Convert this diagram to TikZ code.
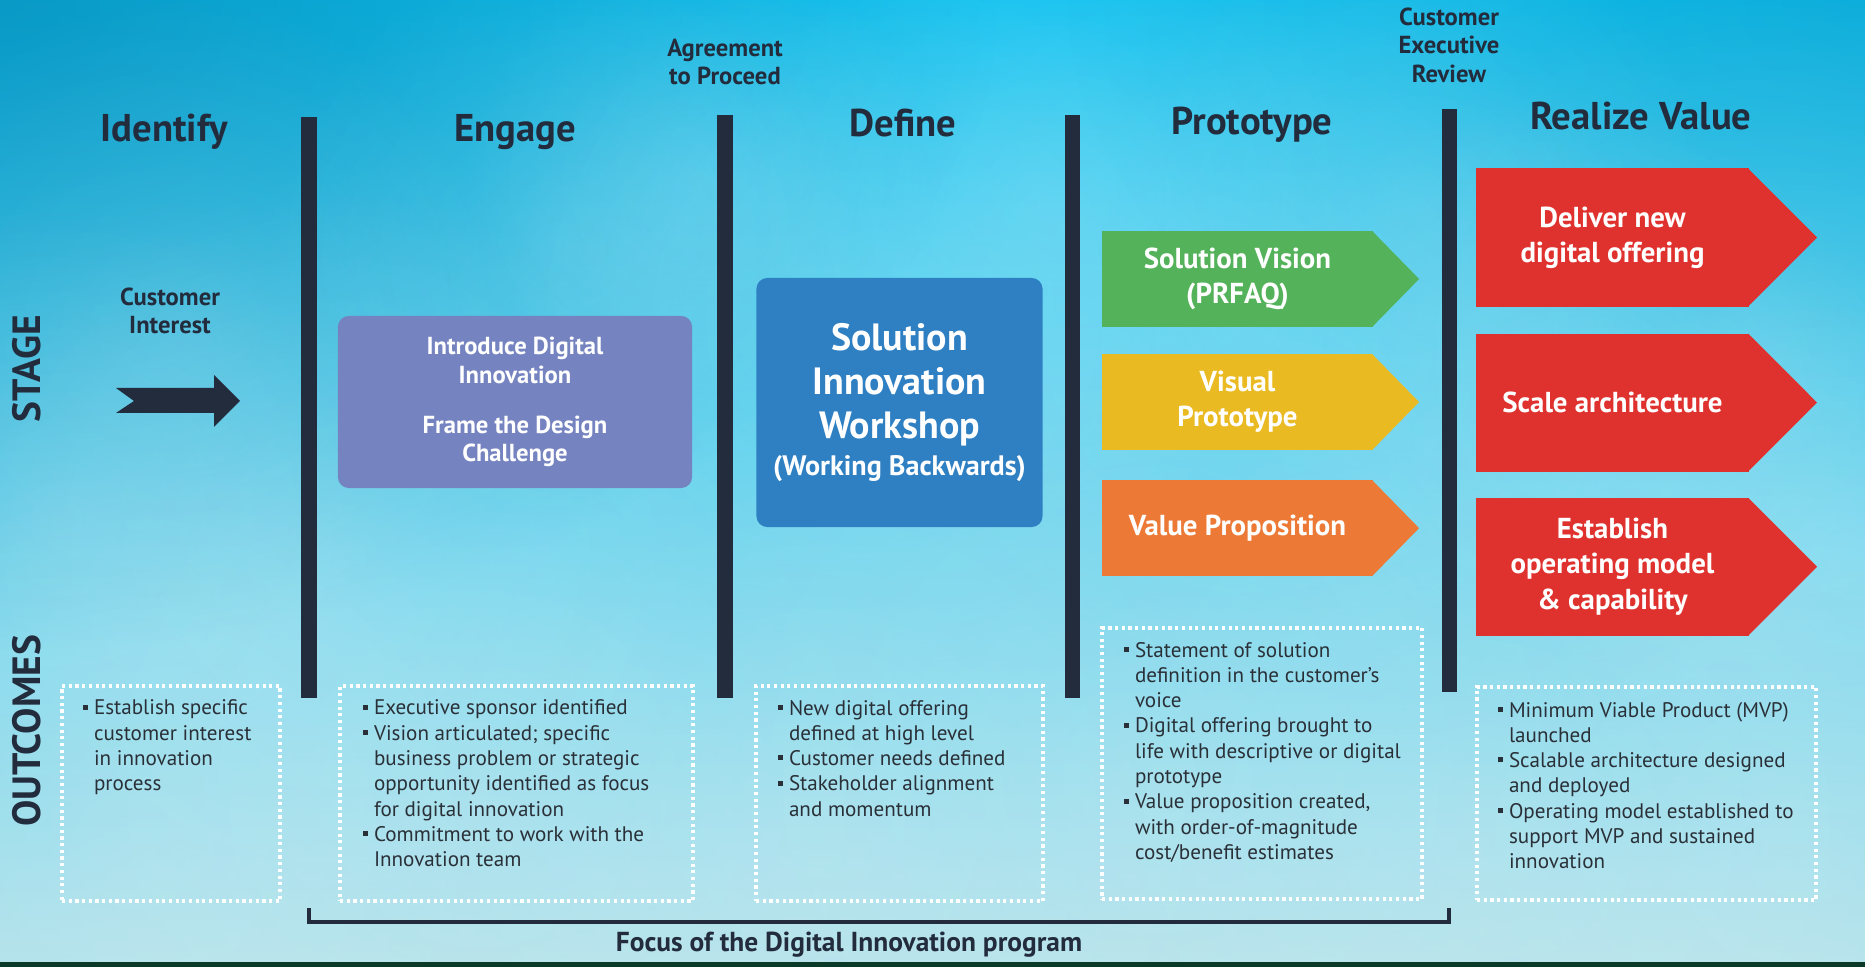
\documentclass[tikz,border=0pt]{standalone}
\usepackage{fontspec}
\setmainfont{PT Sans}
\usepackage{tikz}
\usetikzlibrary{positioning}
\usetikzlibrary{calc}
\usetikzlibrary{fadings}
\definecolor{navy}{HTML}{222C3C}
\definecolor{skytop}{HTML}{10C2F0}
\definecolor{skymid}{HTML}{4ECCEB}
\definecolor{skybot}{HTML}{B0E1EA}
\definecolor{skydark}{HTML}{0890BC}
\definecolor{ground}{HTML}{0C3A28}
\definecolor{engagefill}{HTML}{7584C0}
\definecolor{definefill}{HTML}{2E80C3}
\definecolor{protogreen}{HTML}{54B25A}
\definecolor{protoyellow}{HTML}{EABA22}
\definecolor{protoorange}{HTML}{EC7A36}
\definecolor{realred}{HTML}{DF322F}
\definecolor{outtxt}{HTML}{2A3038}
\tikzfading[name=softspot,inner color=transparent!0,outer color=transparent!100]
\newcommand{\bul}{\makebox[0.11cm][l]{\rule[0.25em]{1.4pt}{1.4pt}}}
\newcommand{\ind}{\hspace*{0.11cm}}

\begin{document}
\begin{tikzpicture}[x=0.01cm,y=-0.01cm,node distance=0.27cm,
  every node/.style={inner sep=0,outer sep=0,align=center},
  title/.style={anchor=base,text=navy,font=\fontsize{11}{13}\selectfont\bfseries},
  gate/.style={text=navy,font=\fontsize{7}{8.1}\selectfont\bfseries},
  side/.style={rotate=90,text=navy,font=\fontsize{11.2}{13}\selectfont\bfseries},
  bar/.style={navy,line width=0.15cm},
  stagebox/.style={rounded corners=0.11cm,text=white,font=\fontsize{7}{8.2}\selectfont\bfseries},
  protoarrow/.style={minimum width=2.71cm,minimum height=0.96cm,text=white,font=\fontsize{8.2}{10}\selectfont\bfseries},
  realarrow/.style={fill=realred,minimum width=2.73cm,minimum height=1.38cm,text=white,font=\fontsize{8.2}{10}\selectfont\bfseries},
  outbox/.style={draw=white,line width=1pt,dash pattern=on 0.9pt off 1pt,anchor=north west},
  outtext/.style={align=left,text=outtxt,font=\fontsize{6}{7.2}\selectfont}]

\useasboundingbox (0,0) rectangle (1865,967);
\begin{scope}
\clip (0,0) rectangle (1865,967);
\shade[top color=skytop,middle color=skymid,bottom color=skybot] (0,0) rectangle (1865,967);
\fill[skydark,opacity=0.8,path fading=softspot] (0,0) ellipse [x radius=1000,y radius=650];
\fill[skydark,opacity=0.4,path fading=softspot] (1865,0) ellipse [x radius=800,y radius=500];
\foreach \cx/\cy/\r in {180/330/170, 60/520/160, 330/560/190, 560/250/150, 700/180/120,
    880/320/190, 1050/200/160, 1250/330/200, 1420/200/150, 1560/430/170, 1760/350/190,
    1850/560/160, 140/860/200, 480/800/230, 820/820/230, 1150/780/240, 1480/830/220, 1800/860/200}
  \fill[white,opacity=0.14,path fading=softspot] (\cx,\cy) circle [radius=2*\r];
\fill[ground] (0,962) rectangle (1865,967);
\end{scope}

\foreach \n/\x/\t/\b in {1/309/117/698, 2/725/115/698, 3/1072/115/698, 4/1449/109/692} {
  \coordinate (gt\n) at (\x,\t);
  \coordinate (gb\n) at (\x,\b);
  \draw[bar] (gt\n) -- (gb\n);
}

\node[title] (identify) at (164,142) {Identify};
\node[title] (engage) at (515,142) {Engage};
\node[title] (define) at (903,137) {Define};
\node[title] (prototype) at (1252,135) {Prototype};
\node[title] (realize) at (1641,130) {Realize Value};

\node[gate] (agree) at (725,62) {Agreement\\to Proceed};
\node[gate] (review) at (1449,45) {Customer\\Executive\\Review};
\node[gate] (interest) at (170,311) {Customer\\Interest};

\node[side] (stage) at (27,369) {STAGE};
\node[side] (outcomes) at (27,731) {OUTCOMES};

\fill[navy] (116,388) -- (214,388) -- (214,375) -- (240,401) -- (214,427) -- (214,413) -- (116,413) -- (134,401) -- cycle;

\node[stagebox,fill=engagefill,minimum width=3.54cm,minimum height=1.72cm] (intro) at (515,402)
  {Introduce Digital\\Innovation\\[6pt]Frame the Design\\Challenge};
\node[stagebox,fill=definefill,minimum width=2.86cm,minimum height=2.49cm,
  font=\fontsize{10.8}{12.5}\selectfont\bfseries] (workshop) at (899.5,402.5)
  {Solution\\Innovation\\Workshop\\[-2pt]{\fontsize{8}{10}\selectfont(Working Backwards)}};

\node[protoarrow,fill=protogreen] (vision) at (1237.5,279) {Solution Vision\\(PRFAQ)};
\node[protoarrow,fill=protoyellow,below=of vision] (visual) {Visual\\Prototype};
\node[protoarrow,fill=protoorange,below=0.3cm of visual] (valprop) {Value Proposition};

\node[realarrow] (deliver) at (1612.5,237.5) {Deliver new\\digital offering};
\node[realarrow,below=of deliver] (scale) {Scale architecture};
\node[realarrow,below=0.26cm of scale] (establish) {Establish\\operating model\\\& capability};

\foreach \n/\c/\t in {vision/protogreen/46, visual/protoyellow/46, valprop/protoorange/46,
    deliver/realred/68, scale/realred/68, establish/realred/68}
  \fill[\c] ($(\n.north east)+(-1,0)$) -- ($(\n.east)+(\t,0)$) -- ($(\n.south east)+(-1,0)$) -- cycle;

\node[outbox,minimum width=2.18cm,minimum height=2.15cm] (o1) at (62,686) {};
\node[outbox,minimum width=3.53cm,minimum height=2.15cm] (o2) at (340,686) {};
\node[outbox,minimum width=2.87cm,minimum height=2.15cm] (o3) at (756,686) {};
\node[outbox,minimum width=3.20cm,minimum height=2.71cm] (o4) at (1102,628) {};
\node[outbox,minimum width=3.39cm,minimum height=2.13cm] (o5) at (1477,687) {};

\node[outtext,below right=0.14cm and 0.21cm of o1.north west] (t1)
  {\bul Establish specific\\\ind customer interest\\\ind in innovation\\\ind process};
\node[outtext,below right=0.14cm and 0.23cm of o2.north west] (t2)
  {\bul Executive sponsor identified\\\bul Vision articulated; specific\\\ind business problem or strategic\\
   \ind opportunity identified as focus\\\ind for digital innovation\\\bul Commitment to work with the\\\ind Innovation team};
\node[outtext,below right=0.14cm and 0.22cm of o3.north west] (t3)
  {\bul New digital offering\\\ind defined at high level\\\bul Customer needs defined\\\bul Stakeholder alignment\\\ind and momentum};
\node[outtext,below right=0.14cm and 0.22cm of o4.north west] (t4)
  {\bul Statement of solution\\\ind definition in the customer’s\\\ind voice\\\bul Digital offering brought to\\
   \ind life with descriptive or digital\\\ind prototype\\\bul Value proposition created,\\\ind with order-of-magnitude\\\ind cost/benefit estimates};
\node[outtext,below right=0.15cm and 0.21cm of o5.north west] (t5)
  {\bul Minimum Viable Product (MVP)\\\ind launched\\\bul Scalable architecture designed\\\ind and deployed\\
   \bul Operating model established to\\\ind support MVP and sustained\\\ind innovation};

\coordinate (fl) at (309,908);
\coordinate (fr) at (1449,908);
\draw[navy,line width=0.9pt] (fl) -- ++(0,14) -| (fr);
\node[title,font=\fontsize{7.8}{9}\selectfont\bfseries] (focus) at (849,952) {Focus of the Digital Innovation program};
\end{tikzpicture}
\end{document}
